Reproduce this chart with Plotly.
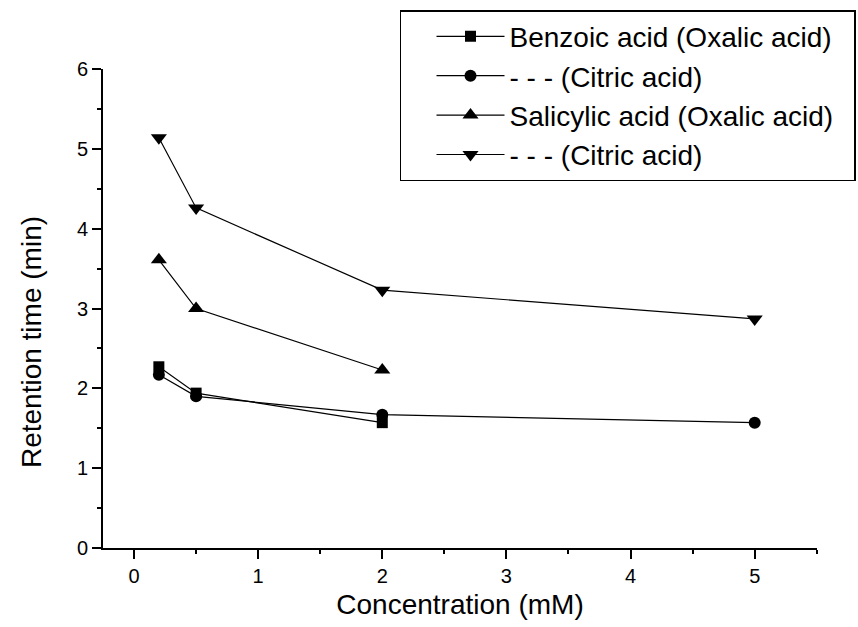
import plotly.graph_objects as go

# Concentration of the mobile-phase additive (mM)
conc_oxalic = [0.2, 0.5, 2]
conc_citric = [0.2, 0.5, 2, 5]

# Retention times (min)
benzoic_oxalic = [2.27, 1.94, 1.57]
benzoic_citric = [2.17, 1.90, 1.67, 1.57]
salicylic_oxalic = [3.61, 3.00, 2.23]
salicylic_citric = [5.14, 4.26, 3.23, 2.87]

series_names = [
    "Benzoic acid (Oxalic acid)",
    "- - - (Citric acid)",
    "Salicylic acid (Oxalic acid)",
    "- - - (Citric acid)",
]

FONT = "Liberation Sans, Arial, Helvetica, sans-serif"
PAD = "\u00a0\u00a0"  # right-hand breathing room inside the legend frame

fig = go.Figure()
specs = [
    (conc_oxalic, benzoic_oxalic, "square", 11),
    (conc_citric, benzoic_citric, "circle", 12),
    (conc_oxalic, salicylic_oxalic, "triangle-up", 14),
    (conc_citric, salicylic_citric, "triangle-down", 14),
]
for (xs, ys, sym, size), name in zip(specs, series_names):
    fig.add_trace(go.Scatter(
        x=xs, y=ys, name=name + PAD, mode="lines+markers",
        line=dict(color="black", width=1.2),
        marker=dict(symbol=sym, size=size, color="black", line=dict(width=0)),
    ))

fig.update_layout(
    width=858, height=627,
    margin=dict(l=103, r=41, t=69, b=79, autoexpand=False),
    paper_bgcolor="white", plot_bgcolor="white",
    font=dict(family=FONT, color="black", size=20),
    showlegend=True,
    legend=dict(
        x=1.0546, xanchor="right", y=1.123, yanchor="top",
        bordercolor="black", borderwidth=1.5, bgcolor="white",
        font=dict(family=FONT, size=28, color="black"),
        itemwidth=68, tracegroupgap=0,
        title=dict(text="\u00a0\u00a0\u00a0", side="left", font=dict(size=24)),
    ),
    annotations=[dict(
        text="Retention time (min)", textangle=-90,
        xref="paper", yref="paper", x=-0.1008, y=0.43,
        xanchor="center", yanchor="middle", showarrow=False,
        font=dict(family=FONT, size=28, color="black"),
    )],
)

axis_common = dict(
    tickmode="linear", tick0=0, dtick=1,
    showgrid=False, zeroline=False,
    showline=True, linecolor="black", linewidth=2,
    ticks="outside", ticklen=9, tickwidth=2, tickcolor="black",
    minor=dict(tickmode="linear", dtick=0.5, ticks="outside", ticklen=4,
               tickwidth=2, tickcolor="black", showgrid=False),
    tickfont=dict(family=FONT, size=20),
)

fig.update_xaxes(
    range=[-0.25, 5.502], **axis_common,
    title=dict(text="Concentration (mM)", font=dict(family=FONT, size=28), standoff=8),
)
fig.update_yaxes(range=[0, 6], **axis_common)

fig.write_html("out.html")
